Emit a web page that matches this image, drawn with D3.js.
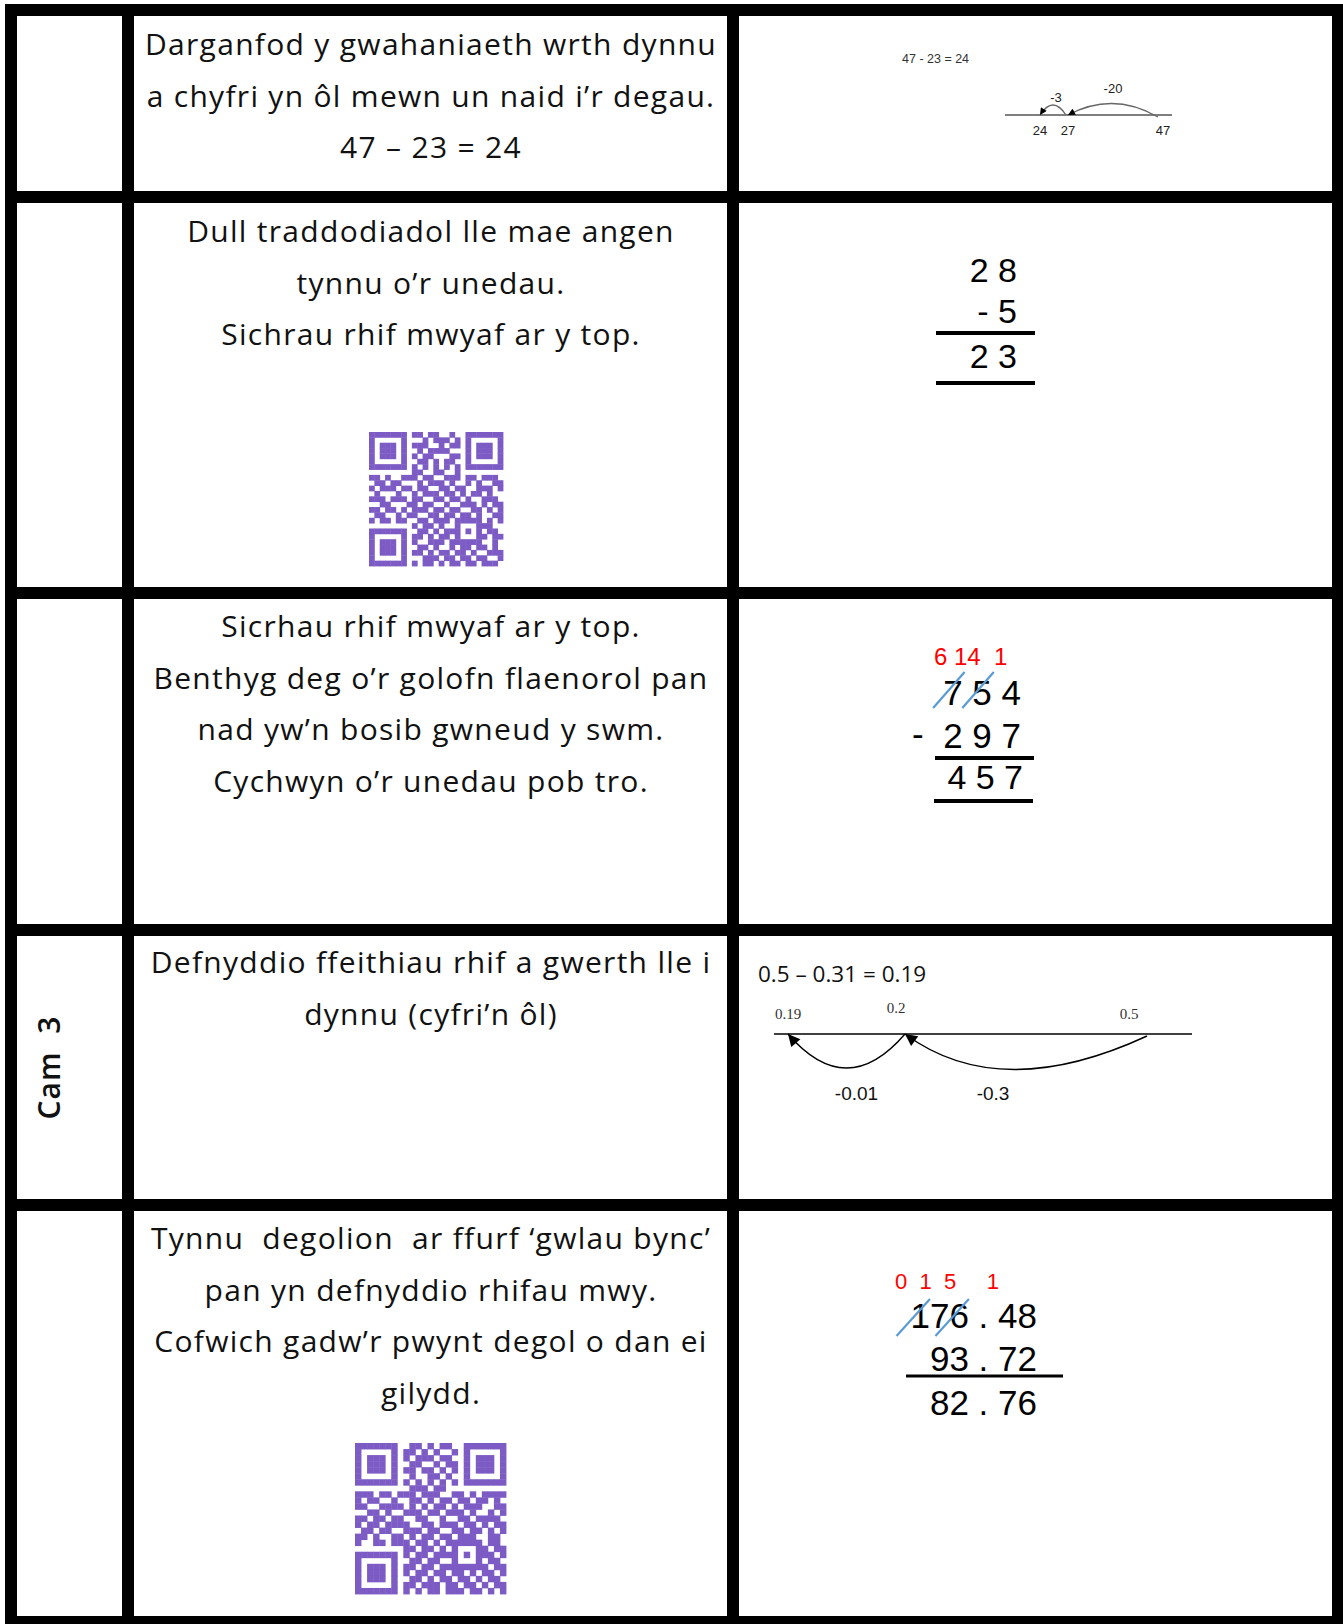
<!DOCTYPE html>
<html>
<head>
<meta charset="utf-8">
<script src="https://cdn.jsdelivr.net/npm/d3@7"></script>
<style>
  body { margin: 0; background: #fff; }
  svg { display: block; }
  text { white-space: pre; }
</style>
</head>
<body>
<div id="chart"></div>
<script>
// left column labels, one per row
const rowLabels = ["", "", "", "Cam  3", ""];

// middle column text, one list of lines per row
const rowText = [
  ["Darganfod y gwahaniaeth wrth dynnu", "a chyfri yn ôl mewn un naid i’r degau.", "47 – 23 = 24"],
  ["Dull traddodiadol lle mae angen", "tynnu o’r unedau.", "Sichrau rhif mwyaf ar y top."],
  ["Sicrhau rhif mwyaf ar y top.", "Benthyg deg o’r golofn flaenorol pan", "nad yw’n bosib gwneud y swm.", "Cychwyn o’r unedau pob tro."],
  ["Defnyddio ffeithiau rhif a gwerth lle i", "dynnu (cyfri’n ôl)"],
  ["Tynnu  degolion  ar ffurf ‘gwlau bync’", "pan yn defnyddio rhifau mwy.", "Cofwich gadw’r pwynt degol o dan ei", "gilydd."]
];

// number line in row 1
const line1Title = "47 - 23 = 24";
const line1Ticks = [24, 27, 47];
const line1Jumps = [
  { from: 47, to: 27, label: "-20" },
  { from: 27, to: 24, label: "-3" }
];

// number line in row 4
const line4Title = "0.5 – 0.31 = 0.19";
const line4Ticks = [0.19, 0.2, 0.5];
const line4Jumps = [
  { from: 0.5, to: 0.2, label: "-0.3" },
  { from: 0.2, to: 0.19, label: "-0.01" }
];

// column sums
const sum2Rows = ["2 8", "- 5", "2 3"];
const sum3Carry = "6 14  1";
const sum3Rows = ["7 5 4", "2 9 7", "4 5 7"];
const sum3Crossed = [0, 2];
const sum5Carry = "0  1  5     1";
const sum5Rows = ["176 . 48", "93 . 72", "82 . 76"];
const sum5Crossed = [0, 2];

// QR codes (rows 2 and 5)
const qrRow2 = [
  "1111111" + "0" + "110110010" + "0" + "1111111",
  "1000001" + "0" + "001011101" + "0" + "1000001",
  "1011101" + "0" + "111001011" + "0" + "1011101",
  "1011101" + "0" + "010111100" + "0" + "1011101",
  "1011101" + "0" + "101100011" + "0" + "1011101",
  "1000001" + "0" + "011010110" + "0" + "1000001",
  "1111111" + "0" + "101010101" + "0" + "1111111",
  "0000000" + "0" + "110011001" + "0" + "0000000",
  "1101001110" + "1100111011" + "01110",
  "0110110001" + "0111010010" + "10011",
  "1011101101" + "1001101100" + "11101",
  "0100010010" + "1110110101" + "10100",
  "1110111011" + "0011011010" + "01110",
  "0011000110" + "1100100111" + "01011",
  "1101101011" + "1011011001" + "10101",
  "0110010110" + "0110110110" + "10011",
  "1011011001101110" + "11111" + "0101",
  "00000000" + "10110100" + "10001" + "1100",
  "1111111" + "0" + "01101011" + "10101" + "0110",
  "1000001" + "0" + "11010110" + "10001" + "1011",
  "1011101" + "0" + "10011101" + "11111" + "0010",
  "1011101" + "0" + "01101001" + "011011010",
  "1011101" + "0" + "11010110" + "110100111",
  "1000001" + "0" + "00111011" + "011011001",
  "1111111" + "0" + "10110101" + "101101110"
];
const qrRow5 = [
  "1111111" + "0" + "011010110" + "0" + "1111111",
  "1000001" + "0" + "110101001" + "0" + "1000001",
  "1011101" + "0" + "101110110" + "0" + "1011101",
  "1011101" + "0" + "011001011" + "0" + "1011101",
  "1011101" + "0" + "110110101" + "0" + "1011101",
  "1000001" + "0" + "010011010" + "0" + "1000001",
  "1111111" + "0" + "101010101" + "0" + "1111111",
  "0000000" + "0" + "011101100" + "0" + "0000000",
  "1110110111" + "0111001101" + "01111",
  "1011001001" + "1010110110" + "11010",
  "1100111101" + "0101101011" + "10011",
  "0011010011" + "1011011101" + "00101",
  "1101101100" + "1100100110" + "11110",
  "1011011110" + "0110111011" + "01011",
  "0110110011" + "1011001101" + "10101",
  "1101001101" + "0110110111" + "00110",
  "1001101110110101" + "11111" + "0110",
  "00000000" + "11011010" + "10001" + "1011",
  "1111111" + "0" + "10110111" + "10101" + "1101",
  "1000001" + "0" + "01101100" + "10001" + "0110",
  "1011101" + "0" + "11011011" + "11111" + "1011",
  "1011101" + "0" + "10110110" + "110101101",
  "1011101" + "0" + "01101011" + "011010110",
  "1000001" + "0" + "11011101" + "101101011",
  "1111111" + "0" + "10101101" + "110110101"
];

// ---- layout ----
const W = 1343, H = 1624;
const HAND = "'Segoe Print','Comic Sans MS','Open Sans',sans-serif";
const ARIAL = "'Liberation Sans',Arial,sans-serif";
const QR_COLOR = "#7d5bc5";
const BLUE = "#5b9bd5";

const svg = d3.select("#chart").append("svg")
  .attr("width", W).attr("height", H)
  .style("font-family", HAND);

const defs = svg.append("defs");
function marker(id, len, wid) {
  defs.append("marker")
    .attr("id", id)
    .attr("viewBox", "0 0 10 10")
    .attr("refX", 10).attr("refY", 5)
    .attr("markerUnits", "userSpaceOnUse")
    .attr("markerWidth", len).attr("markerHeight", wid)
    .attr("orient", "auto")
    .append("path").attr("d", "M0,0L10,5L0,10Z").attr("fill", "#000");
}
marker("arrSmall", 8, 7);
marker("arrBig", 15, 12);

// table grid
const vLines = [{ x: 5, w: 12 }, { x: 122, w: 12 }, { x: 727, w: 12 }, { x: 1332, w: 11 }];
const hLines = [{ y: 4, h: 12 }, { y: 191, h: 12 }, { y: 587, h: 12 }, { y: 924, h: 12 }, { y: 1199, h: 12 }, { y: 1616, h: 12 }];
const grid = svg.append("g");
grid.selectAll(".v").data(vLines).join("rect")
  .attr("x", d => d.x).attr("y", 4).attr("width", d => d.w).attr("height", H)
  .attr("fill", "#000");
grid.selectAll(".h").data(hLines).join("rect")
  .attr("x", 5).attr("y", d => d.y).attr("width", W - 5).attr("height", d => d.h)
  .attr("fill", "#000");

// left column labels (rotated)
const rowMid = hLines.slice(0, -1).map((d, i) => (d.y + d.h + hLines[i + 1].y) / 2);
rowLabels.forEach((lab, i) => {
  if (!lab) return;
  svg.append("text")
    .attr("transform", `translate(60,${rowMid[i]}) rotate(-90)`)
    .attr("text-anchor", "middle")
    .attr("font-size", 30).attr("font-weight", 600).attr("fill", "#111")
    .attr("letter-spacing", 1)
    .text(lab);
});

// middle column text
const firstBase = [55, 242, 637, 973, 1249];
const lineGap = 51.5;
rowText.forEach((lines, i) => {
  svg.append("g").selectAll("text").data(lines).join("text")
    .attr("x", 431)
    .attr("y", (d, j) => firstBase[i] + j * lineGap)
    .attr("text-anchor", "middle")
    .attr("font-size", 30).attr("letter-spacing", 1.3).attr("fill", "#111")
    .text(d => d);
});

// QR codes
function drawQR(rows, x0, y0, size) {
  const s = d3.scaleLinear().domain([0, rows.length]).range([0, size]);
  const cells = [];
  rows.forEach((r, i) => r.split("").forEach((c, j) => { if (c === "1") cells.push({ i, j }); }));
  svg.append("g").attr("transform", `translate(${x0},${y0})`)
    .selectAll("rect").data(cells).join("rect")
    .attr("x", d => s(d.j)).attr("y", d => s(d.i))
    .attr("width", s(1) + 0.4).attr("height", s(1) + 0.4)
    .attr("fill", QR_COLOR);
}
drawQR(qrRow2, 369, 432, 134);
drawQR(qrRow5, 355, 1443, 151);

// number line helper
function numberLine(cfg) {
  const g = svg.append("g");
  const x = d3.scaleLinear().domain(cfg.ticks).range(cfg.range);
  g.append("text")
    .attr("x", cfg.title.x).attr("y", cfg.title.y)
    .attr("font-family", cfg.title.font).attr("font-size", cfg.title.size)
    .attr("fill", cfg.title.color)
    .text(cfg.title.text);
  g.append("line")
    .attr("x1", cfg.lineX[0]).attr("x2", cfg.lineX[1])
    .attr("y1", cfg.lineY).attr("y2", cfg.lineY)
    .attr("stroke", cfg.lineColor).attr("stroke-width", cfg.lineWidth);
  g.selectAll(".tick").data(cfg.ticks).join("text")
    .attr("x", (d, i) => x(d) + cfg.tickDx[i])
    .attr("y", (d, i) => cfg.tickY[i])
    .attr("text-anchor", "middle")
    .attr("font-family", cfg.tickFont).attr("font-size", cfg.tickSize)
    .attr("fill", cfg.tickColor)
    .text(d => d);
  cfg.jumps.forEach((j, k) => {
    const x0 = x(j.from) + (cfg.startDx ? cfg.startDx[k] : 0);
    const x1 = x(j.to);
    const y0 = cfg.lineY + cfg.endDy[k];
    const mx = cfg.peakX ? cfg.peakX(k, x0, x1) : (x0 + x1) / 2;
    const cx = (4 * mx - x0 - x1) / 2;
    const cy = cfg.lineY + 2 * cfg.depth[k];
    const p = d3.path();
    p.moveTo(x0, y0);
    p.quadraticCurveTo(cx, cy, x1, cfg.lineY);
    g.append("path").attr("d", p.toString())
      .attr("fill", "none").attr("stroke", cfg.arcColor).attr("stroke-width", cfg.arcWidth)
      .attr("marker-end", `url(#${cfg.marker})`);
    g.append("text")
      .attr("x", mx + cfg.labelDx[k]).attr("y", cfg.labelY[k])
      .attr("text-anchor", "middle")
      .attr("font-family", ARIAL).attr("font-size", cfg.labelSize)
      .attr("fill", cfg.labelColor)
      .text(j.label);
  });
}

numberLine({
  title: { text: line1Title, x: 902, y: 63, font: ARIAL, size: 12.5, color: "#333" },
  ticks: line1Ticks, range: [1040, 1068, 1158],
  lineX: [1005, 1172], lineY: 115, lineColor: "#555", lineWidth: 1.3,
  tickDx: [0, 0, 5], tickY: [135, 135, 135], tickFont: ARIAL, tickSize: 13, tickColor: "#222",
  jumps: line1Jumps, depth: [-12, -10], endDy: [2, 0], startDx: [0, -2],
  arcColor: "#666", arcWidth: 1.3, marker: "arrSmall",
  labelDx: [0, 3], labelY: [93, 102], labelSize: 13, labelColor: "#222"
});

numberLine({
  title: { text: line4Title, x: 758, y: 982, font: "'Open Sans',sans-serif", size: 22.5, color: "#111" },
  ticks: line4Ticks, range: [788, 905, 1147],
  lineX: [774, 1192], lineY: 1034, lineColor: "#000", lineWidth: 1.5,
  tickDx: [0, -9, -18], tickY: [1019, 1013, 1019], tickFont: "'Liberation Serif',serif", tickSize: 15, tickColor: "#333",
  jumps: line4Jumps, depth: [35, 34], endDy: [2, 0],
  peakX: (k, x0, x1) => k === 0 ? 1013 : (x0 + x1) / 2,
  arcColor: "#000", arcWidth: 1.4, marker: "arrBig",
  labelDx: [-20, 10], labelY: [1100, 1100], labelSize: 19, labelColor: "#111"
});

// column sum helper
function columnSum(cfg) {
  const g = svg.append("g").attr("font-family", ARIAL);
  if (cfg.carry) {
    g.append("text").attr("x", cfg.carry.x).attr("y", cfg.carry.y)
      .attr("font-size", cfg.carry.size).attr("fill", "#ff0000")
      .text(cfg.carry.text);
  }
  const rows = g.selectAll(".row").data(cfg.rows).join("text")
    .attr("x", cfg.right)
    .attr("y", (d, i) => cfg.baselines[i])
    .attr("text-anchor", "end")
    .attr("font-size", cfg.size).attr("fill", "#000")
    .text(d => d);
  if (cfg.minus) {
    g.append("text").attr("x", cfg.minus.x).attr("y", cfg.minus.y)
      .attr("font-size", cfg.size).text("-");
  }
  g.selectAll(".rule").data(cfg.rules).join("line")
    .attr("x1", d => d.x1).attr("x2", d => d.x2)
    .attr("y1", d => d.y).attr("y2", d => d.y)
    .attr("stroke", "#000").attr("stroke-width", cfg.ruleWidth);
  if (cfg.crossed) {
    const topNode = rows.nodes()[0];
    const base = cfg.baselines[0];
    cfg.crossed.forEach(ci => {
      const b = topNode.getExtentOfChar(ci);
      g.append("line")
        .attr("x1", b.x - cfg.slash[0]).attr("y1", base + cfg.slash[1])
        .attr("x2", b.x + b.width + cfg.slash[2]).attr("y2", base - cfg.slash[3])
        .attr("stroke", BLUE).attr("stroke-width", 2.2);
    });
  }
}

columnSum({
  rows: sum2Rows, right: 1017, baselines: [282, 323, 368], size: 34,
  rules: [{ x1: 936, x2: 1035, y: 333 }, { x1: 936, x2: 1035, y: 383 }],
  ruleWidth: 4
});

columnSum({
  carry: { text: sum3Carry, x: 934, y: 665, size: 24 },
  rows: sum3Rows.slice(0, 2), right: 1021, baselines: [705, 748], size: 35,
  minus: { x: 912, y: 746 },
  rules: [{ x1: 935, x2: 1034, y: 758 }, { x1: 934, x2: 1033, y: 801 }],
  ruleWidth: 4,
  crossed: sum3Crossed, slash: [10, 3, 2, 33]
});
columnSum({
  rows: sum3Rows.slice(2), right: 1023, baselines: [789], size: 34,
  rules: []
});

columnSum({
  carry: { text: sum5Carry, x: 895, y: 1289, size: 22 },
  rows: sum5Rows, right: 1037, baselines: [1328, 1371, 1415], size: 35,
  rules: [{ x1: 906, x2: 1063, y: 1376 }],
  ruleWidth: 3,
  crossed: sum5Crossed, slash: [14, 8, 0, 29]
});
</script>
</body>
</html>
